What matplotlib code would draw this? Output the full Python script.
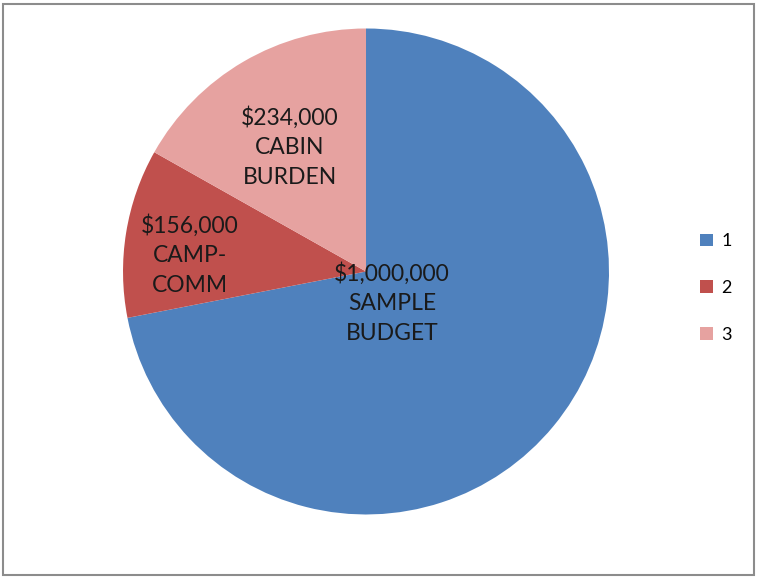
import matplotlib.pyplot as plt
from matplotlib.patches import Patch, Rectangle

# pie data
series = ["1", "2", "3"]
amounts = [1000000, 156000, 234000]
names = ["SAMPLE\nBUDGET", "CAMP-\nCOMM", "CABIN\nBURDEN"]
colors = ["#4F81BD", "#C0504D", "#E6A2A0"]

# where each label sits inside the pie (radius units)
label_pos = [(0.107, -0.130), (-0.724, 0.068), (-0.313, 0.512)]

plt.rcParams["font.family"] = ["Lato", "DejaVu Sans"]

fig = plt.figure(figsize=(7.57, 5.78), dpi=100)
ax = fig.add_axes([0.1625, 0.1099, 0.642, 0.8408])
ax.pie(amounts, colors=colors, startangle=90, counterclock=False,
       radius=1.0, wedgeprops=dict(linewidth=0))
ax.set_xlim(-1, 1)
ax.set_ylim(-1, 1)
ax.set_aspect("equal")
ax.axis("off")

for (x, y), amt, name in zip(label_pos, amounts, names):
    ax.text(x, y, f"${amt:,}\n{name}", ha="center", va="center",
            fontsize=16.5, linespacing=1.5, color="#1a1a1a")

handles = [Patch(facecolor=c, edgecolor="none") for c in colors]
fig.legend(handles, series, loc="center left", bbox_to_anchor=(0.915, 0.502),
           frameon=False, fontsize=13, handlelength=0.7, handleheight=0.7,
           handletextpad=0.5, labelspacing=1.7, borderaxespad=0)

# grey frame of the screenshot
fig.patches.append(Rectangle((3 / 757, 3 / 578), 751 / 757, 571 / 578,
                             transform=fig.transFigure, fill=False,
                             edgecolor="#8c8c8c", linewidth=1.5))

fig.savefig("out.png", dpi=100)
